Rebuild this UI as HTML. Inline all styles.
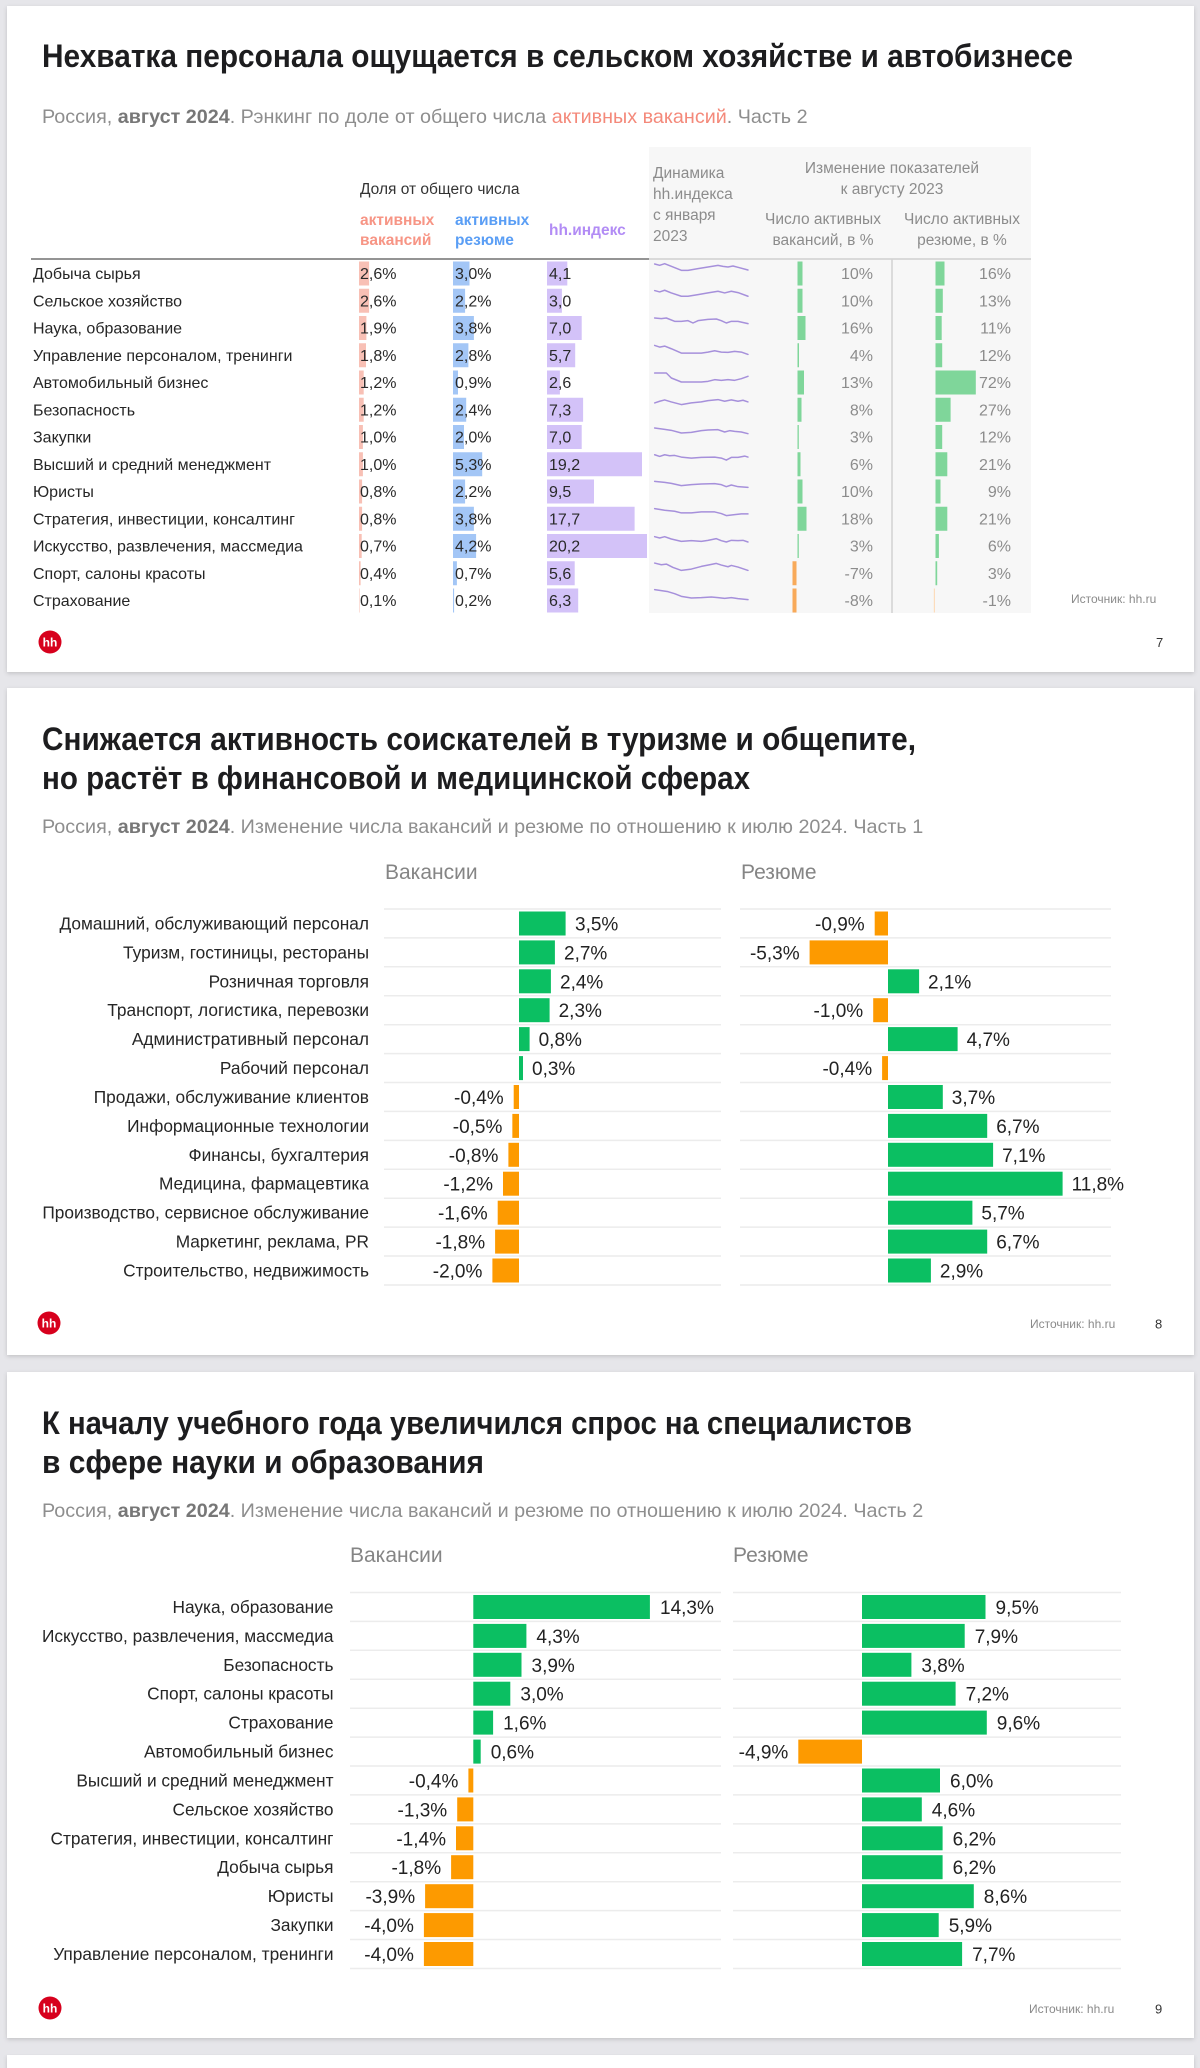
<!DOCTYPE html>
<html><head><meta charset="utf-8"><style>
html,body{margin:0;padding:0;background:#e6e6ea;}
svg{display:block;}
text{font-family:"Liberation Sans",Arial,sans-serif;}
.t{font-weight:bold;fill:#1d1d1f;font-size:32px;}
.sub{font-size:19.75px;fill:#8e8e8e;}
.lb{font-size:16px;fill:#262626;}
.v{font-size:16px;fill:#2a2a2a;}
.g{font-size:16px;fill:#8c8c8c;}
.ph{font-size:15.5px;fill:#8c8c8c;}
.cl{font-size:17.3px;fill:#262626;}
.cv{font-size:19px;fill:#222;}
.ch{font-size:21px;fill:#858585;}
.src{font-size:12px;fill:#8a8a8a;}
.pg{font-size:13px;fill:#333;}
.sp{fill:none;stroke:#a690db;stroke-width:4.5;stroke-linejoin:round;stroke-linecap:round;}
</style></head><body>
<svg width="1200" height="2068" viewBox="0 0 1200 2068" xmlns="http://www.w3.org/2000/svg">
<defs><filter id="sh" x="-2%" y="-2%" width="104%" height="104%"><feDropShadow dx="0" dy="1.5" stdDeviation="2" flood-color="#000" flood-opacity="0.16"/></filter></defs>
<rect x="0" y="0" width="1200" height="2068" fill="#e6e6ea"/>
<rect x="7" y="6" width="1187" height="666" fill="#fff" filter="url(#sh)"/>
<rect x="7" y="688" width="1187" height="667" fill="#fff" filter="url(#sh)"/>
<rect x="7" y="1372" width="1187" height="666" fill="#fff" filter="url(#sh)"/>
<rect x="7" y="2055" width="1187" height="20" fill="#fff" filter="url(#sh)"/>

<!-- ============ SLIDE 1 ============ -->
<text class="t" x="42" y="67" textLength="1031" lengthAdjust="spacingAndGlyphs">Нехватка персонала ощущается в сельском хозяйстве и автобизнесе</text>
<text class="sub" x="42" y="123">Россия, <tspan font-weight="bold" fill="#777">август 2024</tspan>. Рэнкинг по доле от общего числа <tspan fill="#f4897a">активных вакансий</tspan>. Часть 2</text>

<rect x="649" y="147" width="382" height="466" fill="#f7f7f7"/>
<text x="360" y="194" font-size="15.5" fill="#333">Доля от общего числа</text>
<text x="360" y="225" font-size="15.5" font-weight="bold" fill="#f79585">активных</text>
<text x="360" y="245" font-size="15.5" font-weight="bold" fill="#f79585">вакансий</text>
<text x="455" y="225" font-size="15.5" font-weight="bold" fill="#5a9ef5">активных</text>
<text x="455" y="245" font-size="15.5" font-weight="bold" fill="#5a9ef5">резюме</text>
<text x="549" y="235" font-size="15.5" font-weight="bold" fill="#b28cf5">hh.индекс</text>
<text class="ph" x="653" y="178">Динамика</text>
<text class="ph" x="653" y="199">hh.индекса</text>
<text class="ph" x="653" y="220">с января</text>
<text class="ph" x="653" y="241">2023</text>
<text class="ph" x="892" y="173" text-anchor="middle">Изменение показателей</text>
<text class="ph" x="892" y="194" text-anchor="middle">к августу 2023</text>
<text class="ph" x="823" y="224" text-anchor="middle">Число активных</text>
<text class="ph" x="823" y="245" text-anchor="middle">вакансий, в %</text>
<text class="ph" x="962" y="224" text-anchor="middle">Число активных</text>
<text class="ph" x="962" y="245" text-anchor="middle">резюме, в %</text>
<line x1="31" y1="259" x2="649" y2="259" stroke="#707070" stroke-width="1.5"/>
<line x1="649" y1="259" x2="1031" y2="259" stroke="#cfcfcf" stroke-width="1.5"/>
<line x1="892" y1="259" x2="892" y2="613" stroke="#d2d2d2" stroke-width="1.5"/>

<g fill="#f8c0b5">
<rect x="359" y="261.5" width="10.1" height="24"/>
<rect x="359" y="288.75" width="10.1" height="24"/>
<rect x="359" y="316" width="7.4" height="24"/>
<rect x="359" y="343.25" width="7" height="24"/>
<rect x="359" y="370.5" width="4.7" height="24"/>
<rect x="359" y="397.75" width="4.7" height="24"/>
<rect x="359" y="425" width="3.9" height="24"/>
<rect x="359" y="452.25" width="3.9" height="24"/>
<rect x="359" y="479.5" width="3.1" height="24"/>
<rect x="359" y="506.75" width="3.1" height="24"/>
<rect x="359" y="534" width="2.7" height="24"/>
<rect x="359" y="561.25" width="1.6" height="24"/>
<rect x="359" y="588.5" width="0.5" height="24"/>
</g>
<g fill="#a3c6f6">
<rect x="453" y="261.5" width="16.5" height="24"/>
<rect x="453" y="288.75" width="12.1" height="24"/>
<rect x="453" y="316" width="20.9" height="24"/>
<rect x="453" y="343.25" width="15.4" height="24"/>
<rect x="453" y="370.5" width="5" height="24"/>
<rect x="453" y="397.75" width="13.2" height="24"/>
<rect x="453" y="425" width="11" height="24"/>
<rect x="453" y="452.25" width="29.2" height="24"/>
<rect x="453" y="479.5" width="12.1" height="24"/>
<rect x="453" y="506.75" width="20.9" height="24"/>
<rect x="453" y="534" width="23.1" height="24"/>
<rect x="453" y="561.25" width="3.9" height="24"/>
<rect x="453" y="588.5" width="1.1" height="24"/>
</g>
<g fill="#d3c2f8">
<rect x="547" y="261.5" width="20.3" height="24"/>
<rect x="547" y="288.75" width="14.9" height="24"/>
<rect x="547" y="316" width="34.7" height="24"/>
<rect x="547" y="343.25" width="28.2" height="24"/>
<rect x="547" y="370.5" width="12.9" height="24"/>
<rect x="547" y="397.75" width="36.1" height="24"/>
<rect x="547" y="425" width="34.7" height="24"/>
<rect x="547" y="452.25" width="95" height="24"/>
<rect x="547" y="479.5" width="47" height="24"/>
<rect x="547" y="506.75" width="87.6" height="24"/>
<rect x="547" y="534" width="100" height="24"/>
<rect x="547" y="561.25" width="27.7" height="24"/>
<rect x="547" y="588.5" width="31.2" height="24"/>
</g>

<g class="lb">
<text x="33" y="279">Добыча сырья</text>
<text x="33" y="306.25">Сельское хозяйство</text>
<text x="33" y="333.5">Наука, образование</text>
<text x="33" y="360.75">Управление персоналом, тренинги</text>
<text x="33" y="388">Автомобильный бизнес</text>
<text x="33" y="415.25">Безопасность</text>
<text x="33" y="442.5">Закупки</text>
<text x="33" y="469.75">Высший и средний менеджмент</text>
<text x="33" y="497">Юристы</text>
<text x="33" y="524.25">Стратегия, инвестиции, консалтинг</text>
<text x="33" y="551.5">Искусство, развлечения, массмедиа</text>
<text x="33" y="578.75">Спорт, салоны красоты</text>
<text x="33" y="606">Страхование</text>
</g>
<g class="v">
<text x="360" y="279">2,6%</text><text x="455" y="279">3,0%</text><text x="549" y="279">4,1</text>
<text x="360" y="306.25">2,6%</text><text x="455" y="306.25">2,2%</text><text x="549" y="306.25">3,0</text>
<text x="360" y="333.5">1,9%</text><text x="455" y="333.5">3,8%</text><text x="549" y="333.5">7,0</text>
<text x="360" y="360.75">1,8%</text><text x="455" y="360.75">2,8%</text><text x="549" y="360.75">5,7</text>
<text x="360" y="388">1,2%</text><text x="455" y="388">0,9%</text><text x="549" y="388">2,6</text>
<text x="360" y="415.25">1,2%</text><text x="455" y="415.25">2,4%</text><text x="549" y="415.25">7,3</text>
<text x="360" y="442.5">1,0%</text><text x="455" y="442.5">2,0%</text><text x="549" y="442.5">7,0</text>
<text x="360" y="469.75">1,0%</text><text x="455" y="469.75">5,3%</text><text x="549" y="469.75">19,2</text>
<text x="360" y="497">0,8%</text><text x="455" y="497">2,2%</text><text x="549" y="497">9,5</text>
<text x="360" y="524.25">0,8%</text><text x="455" y="524.25">3,8%</text><text x="549" y="524.25">17,7</text>
<text x="360" y="551.5">0,7%</text><text x="455" y="551.5">4,2%</text><text x="549" y="551.5">20,2</text>
<text x="360" y="578.75">0,4%</text><text x="455" y="578.75">0,7%</text><text x="549" y="578.75">5,6</text>
<text x="360" y="606">0,1%</text><text x="455" y="606">0,2%</text><text x="549" y="606">6,3</text>
</g>

<g transform="translate(648,258) scale(0.3333)"><polyline class="sp" points="20,18 35,22 50,17 70,25 100,37 120,37 150,32 180,27 210,22 225,25 240,27 255,24 270,28 300,36"/></g>
<g transform="translate(648,285.25) scale(0.3333)"><polyline class="sp" points="20,16 35,20 50,15 70,23 100,33 120,33 150,28 180,23 210,18 230,23 250,18 270,22 300,33"/></g>
<g transform="translate(648,312.5) scale(0.3333)"><polyline class="sp" points="20,16.5 40,18.5 55,16.5 80,26.5 100,26.5 120,24.5 135,31.5 150,24.5 180,20.5 205,19.5 220,24.5 235,31.5 250,26.5 270,26.5 300,33.5"/></g>
<g transform="translate(648,339.75) scale(0.3333)"><polyline class="sp" points="20,17 35,22 50,19 70,27 100,40 130,40 160,40 180,37 200,33 220,37 240,38 260,35 280,37 300,44"/></g>
<g transform="translate(648,367) scale(0.3333)"><polyline class="sp" points="20,18 40,18 55,18 70,33 100,45 130,45 160,45 180,43 200,38 220,40 240,38 260,40 280,35 300,28"/></g>
<g transform="translate(648,394.25) scale(0.3333)"><polyline class="sp" points="20,26 35,21 50,17 70,23 100,31 130,26 160,23 180,19 210,16 230,21 250,17 270,21 285,18 300,23"/></g>
<g transform="translate(648,421.5) scale(0.3333)"><polyline class="sp" points="20,19.5 50,23.5 70,26.5 100,34.5 130,32.5 160,27.5 180,25.5 210,24.5 230,31.5 245,27.5 260,29.5 280,31.5 300,36.5"/></g>
<g transform="translate(648,448.75) scale(0.3333)"><polyline class="sp" points="20,18 35,23 50,18 65,21 80,20 100,25 130,28 160,26 200,25 220,28 235,34 250,26 270,26 290,22 300,25"/></g>
<g transform="translate(648,476) scale(0.3333)"><polyline class="sp" points="20,16 50,19 70,22 100,29 130,26 160,24 200,23 220,26 235,32 250,27 270,32 300,34"/></g>
<g transform="translate(648,503.25) scale(0.3333)"><polyline class="sp" points="20,16 50,21 80,24 100,29 130,29 160,26 200,26 220,31 235,37 260,34 280,32 300,32"/></g>
<g transform="translate(648,530.5) scale(0.3333)"><polyline class="sp" points="20,18.5 35,22.5 50,18.5 70,25.5 100,32.5 130,30.5 160,32.5 180,29.5 205,24.5 220,30.5 235,34.5 250,29.5 270,30.5 285,29.5 300,34.5"/></g>
<g transform="translate(648,557.75) scale(0.3333)"><polyline class="sp" points="20,16 40,21 55,19 75,29 100,38 130,34 160,26 185,21 205,17 220,22 240,27 250,23 270,28 300,38"/></g>
<g transform="translate(648,585) scale(0.3333)"><polyline class="sp" points="20,14 40,17 60,20 80,26 100,34 130,39 160,38 190,36 210,38 230,40 250,38 270,41 300,44"/></g>

<g fill="#7fd69a">
<rect x="797.5" y="261.5" width="5" height="24"/>
<rect x="797.5" y="288.75" width="5" height="24"/>
<rect x="797.5" y="316" width="8" height="24"/>
<rect x="797.5" y="343.25" width="1.5" height="24"/>
<rect x="797.5" y="370.5" width="6.5" height="24"/>
<rect x="797.5" y="397.75" width="4" height="24"/>
<rect x="797.5" y="425" width="1.3" height="24"/>
<rect x="797.5" y="452.25" width="3" height="24"/>
<rect x="797.5" y="479.5" width="5" height="24"/>
<rect x="797.5" y="506.75" width="9" height="24"/>
<rect x="797.5" y="534" width="1.3" height="24"/>
</g>
<g fill="#f8aa5a">
<rect x="792.5" y="561.25" width="4" height="24"/>
<rect x="792.5" y="588.5" width="4" height="24"/>
</g>
<g fill="#7fd69a">
<rect x="935.5" y="261.5" width="9" height="24"/>
<rect x="935.5" y="288.75" width="7.3" height="24"/>
<rect x="935.5" y="316" width="6.2" height="24"/>
<rect x="935.5" y="343.25" width="6.7" height="24"/>
<rect x="935.5" y="370.5" width="40.3" height="24"/>
<rect x="935.5" y="397.75" width="15.1" height="24"/>
<rect x="935.5" y="425" width="6.7" height="24"/>
<rect x="935.5" y="452.25" width="11.8" height="24"/>
<rect x="935.5" y="479.5" width="5" height="24"/>
<rect x="935.5" y="506.75" width="11.8" height="24"/>
<rect x="935.5" y="534" width="3.4" height="24"/>
<rect x="935.5" y="561.25" width="1.7" height="24"/>
</g>
<rect x="933.8" y="588.5" width="1.2" height="24" fill="#fcdcbc"/>
<g class="g" text-anchor="end">
<text x="873" y="279">10%</text><text x="1011" y="279">16%</text>
<text x="873" y="306.25">10%</text><text x="1011" y="306.25">13%</text>
<text x="873" y="333.5">16%</text><text x="1011" y="333.5">11%</text>
<text x="873" y="360.75">4%</text><text x="1011" y="360.75">12%</text>
<text x="873" y="388">13%</text><text x="1011" y="388">72%</text>
<text x="873" y="415.25">8%</text><text x="1011" y="415.25">27%</text>
<text x="873" y="442.5">3%</text><text x="1011" y="442.5">12%</text>
<text x="873" y="469.75">6%</text><text x="1011" y="469.75">21%</text>
<text x="873" y="497">10%</text><text x="1011" y="497">9%</text>
<text x="873" y="524.25">18%</text><text x="1011" y="524.25">21%</text>
<text x="873" y="551.5">3%</text><text x="1011" y="551.5">6%</text>
<text x="873" y="578.75">-7%</text><text x="1011" y="578.75">3%</text>
<text x="873" y="606">-8%</text><text x="1011" y="606">-1%</text>
</g>
<text class="src" x="1071" y="603">Источник: hh.ru</text>
<circle cx="50" cy="642" r="11.5" fill="#d7001d"/>
<text x="50" y="646.5" font-size="12" font-weight="bold" fill="#fff" text-anchor="middle">hh</text>
<text class="pg" x="1156" y="647">7</text>

<!-- ============ SLIDE 2 ============ -->
<text class="t" x="42" y="750" textLength="874" lengthAdjust="spacingAndGlyphs">Снижается активность соискателей в туризме и общепите,</text>
<text class="t" x="42" y="789" textLength="708" lengthAdjust="spacingAndGlyphs">но растёт в финансовой и медицинской сферах</text>
<text class="sub" x="42" y="833">Россия, <tspan font-weight="bold" fill="#777">август 2024</tspan>. Изменение числа вакансий и резюме по отношению к июлю 2024. Часть 1</text>
<text class="ch" x="385" y="879">Вакансии</text>
<text class="ch" x="741" y="879">Резюме</text>
<g stroke="#ececec" stroke-width="1.5">
<line x1="384" y1="909" x2="721" y2="909"/><line x1="740" y1="909" x2="1111" y2="909"/>
<line x1="384" y1="937.9" x2="721" y2="937.9"/><line x1="740" y1="937.9" x2="1111" y2="937.9"/>
<line x1="384" y1="966.8" x2="721" y2="966.8"/><line x1="740" y1="966.8" x2="1111" y2="966.8"/>
<line x1="384" y1="995.8" x2="721" y2="995.8"/><line x1="740" y1="995.8" x2="1111" y2="995.8"/>
<line x1="384" y1="1024.7" x2="721" y2="1024.7"/><line x1="740" y1="1024.7" x2="1111" y2="1024.7"/>
<line x1="384" y1="1053.6" x2="721" y2="1053.6"/><line x1="740" y1="1053.6" x2="1111" y2="1053.6"/>
<line x1="384" y1="1082.5" x2="721" y2="1082.5"/><line x1="740" y1="1082.5" x2="1111" y2="1082.5"/>
<line x1="384" y1="1111.4" x2="721" y2="1111.4"/><line x1="740" y1="1111.4" x2="1111" y2="1111.4"/>
<line x1="384" y1="1140.4" x2="721" y2="1140.4"/><line x1="740" y1="1140.4" x2="1111" y2="1140.4"/>
<line x1="384" y1="1169.3" x2="721" y2="1169.3"/><line x1="740" y1="1169.3" x2="1111" y2="1169.3"/>
<line x1="384" y1="1198.2" x2="721" y2="1198.2"/><line x1="740" y1="1198.2" x2="1111" y2="1198.2"/>
<line x1="384" y1="1227.1" x2="721" y2="1227.1"/><line x1="740" y1="1227.1" x2="1111" y2="1227.1"/>
<line x1="384" y1="1256" x2="721" y2="1256"/><line x1="740" y1="1256" x2="1111" y2="1256"/>
<line x1="384" y1="1285" x2="721" y2="1285"/><line x1="740" y1="1285" x2="1111" y2="1285"/>
</g>
<g class="cl" text-anchor="end">
<text x="369" y="929.5">Домашний, обслуживающий персонал</text>
<text x="369" y="958.4">Туризм, гостиницы, рестораны</text>
<text x="369" y="987.3">Розничная торговля</text>
<text x="369" y="1016.2">Транспорт, логистика, перевозки</text>
<text x="369" y="1045.1">Административный персонал</text>
<text x="369" y="1074.1">Рабочий персонал</text>
<text x="369" y="1103">Продажи, обслуживание клиентов</text>
<text x="369" y="1131.9">Информационные технологии</text>
<text x="369" y="1160.8">Финансы, бухгалтерия</text>
<text x="369" y="1189.7">Медицина, фармацевтика</text>
<text x="369" y="1218.7">Производство, сервисное обслуживание</text>
<text x="369" y="1247.6">Маркетинг, реклама, PR</text>
<text x="369" y="1276.5">Строительство, недвижимость</text>
</g>
<g fill="#0bbf62">
<rect x="519" y="911.5" width="46.6" height="24"/>
<rect x="519" y="940.4" width="35.9" height="24"/>
<rect x="519" y="969.3" width="31.9" height="24"/>
<rect x="519" y="998.2" width="30.6" height="24"/>
<rect x="519" y="1027.1" width="10.6" height="24"/>
<rect x="519" y="1056.1" width="4" height="24"/>
<rect x="888" y="969.3" width="31.1" height="24"/>
<rect x="888" y="1027.1" width="69.6" height="24"/>
<rect x="888" y="1085" width="54.8" height="24"/>
<rect x="888" y="1113.9" width="99.2" height="24"/>
<rect x="888" y="1142.8" width="105.1" height="24"/>
<rect x="888" y="1171.7" width="174.6" height="24"/>
<rect x="888" y="1200.7" width="84.4" height="24"/>
<rect x="888" y="1229.6" width="99.2" height="24"/>
<rect x="888" y="1258.5" width="42.9" height="24"/>
</g>
<g fill="#fd9a00">
<rect x="513.7" y="1085" width="5.3" height="24"/>
<rect x="512.35" y="1113.9" width="6.65" height="24"/>
<rect x="508.4" y="1142.8" width="10.6" height="24"/>
<rect x="503" y="1171.7" width="16" height="24"/>
<rect x="497.7" y="1200.7" width="21.3" height="24"/>
<rect x="495.1" y="1229.6" width="23.9" height="24"/>
<rect x="492.4" y="1258.5" width="26.6" height="24"/>
<rect x="874.7" y="911.5" width="13.3" height="24"/>
<rect x="809.6" y="940.4" width="78.4" height="24"/>
<rect x="873.2" y="998.2" width="14.8" height="24"/>
<rect x="882.1" y="1056.1" width="5.9" height="24"/>
</g>
<g class="cv">
<text x="575" y="930.5">3,5%</text>
<text x="564" y="959.4">2,7%</text>
<text x="560" y="988.3">2,4%</text>
<text x="558.6" y="1017.2">2,3%</text>
<text x="538.6" y="1046.1">0,8%</text>
<text x="532" y="1075.1">0,3%</text>
<text x="928" y="988.3">2,1%</text>
<text x="966.6" y="1046.1">4,7%</text>
<text x="951.8" y="1104">3,7%</text>
<text x="996.2" y="1132.9">6,7%</text>
<text x="1002.1" y="1161.8">7,1%</text>
<text x="1071.6" y="1190.7">11,8%</text>
<text x="981.4" y="1219.7">5,7%</text>
<text x="996.2" y="1248.6">6,7%</text>
<text x="939.9" y="1277.5">2,9%</text>
</g>
<g class="cv" text-anchor="end">
<text x="503.7" y="1104">-0,4%</text>
<text x="502.4" y="1132.9">-0,5%</text>
<text x="498.4" y="1161.8">-0,8%</text>
<text x="493" y="1190.7">-1,2%</text>
<text x="487.7" y="1219.7">-1,6%</text>
<text x="485.1" y="1248.6">-1,8%</text>
<text x="482.4" y="1277.5">-2,0%</text>
<text x="864.7" y="930.5">-0,9%</text>
<text x="799.6" y="959.4">-5,3%</text>
<text x="863.2" y="1017.2">-1,0%</text>
<text x="872.1" y="1075.1">-0,4%</text>
</g>
<circle cx="49" cy="1323" r="11.5" fill="#d7001d"/>
<text x="49" y="1327.5" font-size="12" font-weight="bold" fill="#fff" text-anchor="middle">hh</text>
<text class="src" x="1030" y="1328">Источник: hh.ru</text>
<text class="pg" x="1155" y="1328.5">8</text>

<!-- ============ SLIDE 3 ============ -->
<text class="t" x="42" y="1434" textLength="870" lengthAdjust="spacingAndGlyphs">К началу учебного года увеличился спрос на специалистов</text>
<text class="t" x="42" y="1473" textLength="442" lengthAdjust="spacingAndGlyphs">в сфере науки и образования</text>
<text class="sub" x="42" y="1517">Россия, <tspan font-weight="bold" fill="#777">август 2024</tspan>. Изменение числа вакансий и резюме по отношению к июлю 2024. Часть 2</text>
<text class="ch" x="350" y="1562">Вакансии</text>
<text class="ch" x="733" y="1562">Резюме</text>
<g stroke="#ececec" stroke-width="1.5">
<line x1="350" y1="1592.5" x2="721" y2="1592.5"/><line x1="733" y1="1592.5" x2="1121" y2="1592.5"/>
<line x1="350" y1="1621.4" x2="721" y2="1621.4"/><line x1="733" y1="1621.4" x2="1121" y2="1621.4"/>
<line x1="350" y1="1650.3" x2="721" y2="1650.3"/><line x1="733" y1="1650.3" x2="1121" y2="1650.3"/>
<line x1="350" y1="1679.3" x2="721" y2="1679.3"/><line x1="733" y1="1679.3" x2="1121" y2="1679.3"/>
<line x1="350" y1="1708.2" x2="721" y2="1708.2"/><line x1="733" y1="1708.2" x2="1121" y2="1708.2"/>
<line x1="350" y1="1737.1" x2="721" y2="1737.1"/><line x1="733" y1="1737.1" x2="1121" y2="1737.1"/>
<line x1="350" y1="1766" x2="721" y2="1766"/><line x1="733" y1="1766" x2="1121" y2="1766"/>
<line x1="350" y1="1794.9" x2="721" y2="1794.9"/><line x1="733" y1="1794.9" x2="1121" y2="1794.9"/>
<line x1="350" y1="1823.9" x2="721" y2="1823.9"/><line x1="733" y1="1823.9" x2="1121" y2="1823.9"/>
<line x1="350" y1="1852.8" x2="721" y2="1852.8"/><line x1="733" y1="1852.8" x2="1121" y2="1852.8"/>
<line x1="350" y1="1881.7" x2="721" y2="1881.7"/><line x1="733" y1="1881.7" x2="1121" y2="1881.7"/>
<line x1="350" y1="1910.6" x2="721" y2="1910.6"/><line x1="733" y1="1910.6" x2="1121" y2="1910.6"/>
<line x1="350" y1="1939.5" x2="721" y2="1939.5"/><line x1="733" y1="1939.5" x2="1121" y2="1939.5"/>
<line x1="350" y1="1968.5" x2="721" y2="1968.5"/><line x1="733" y1="1968.5" x2="1121" y2="1968.5"/>
</g>
<g class="cl" text-anchor="end">
<text x="333.5" y="1613">Наука, образование</text>
<text x="333.5" y="1641.9">Искусство, развлечения, массмедиа</text>
<text x="333.5" y="1670.8">Безопасность</text>
<text x="333.5" y="1699.7">Спорт, салоны красоты</text>
<text x="333.5" y="1728.6">Страхование</text>
<text x="333.5" y="1757.6">Автомобильный бизнес</text>
<text x="333.5" y="1786.5">Высший и средний менеджмент</text>
<text x="333.5" y="1815.4">Сельское хозяйство</text>
<text x="333.5" y="1844.3">Стратегия, инвестиции, консалтинг</text>
<text x="333.5" y="1873.2">Добыча сырья</text>
<text x="333.5" y="1902.2">Юристы</text>
<text x="333.5" y="1931.1">Закупки</text>
<text x="333.5" y="1960">Управление персоналом, тренинги</text>
</g>
<g fill="#0bbf62">
<rect x="473.3" y="1595" width="176.6" height="24"/>
<rect x="473.3" y="1623.9" width="53.1" height="24"/>
<rect x="473.3" y="1652.8" width="48.2" height="24"/>
<rect x="473.3" y="1681.7" width="37" height="24"/>
<rect x="473.3" y="1710.6" width="19.8" height="24"/>
<rect x="473.3" y="1739.6" width="7.4" height="24"/>
<rect x="862" y="1595" width="123.5" height="24"/>
<rect x="862" y="1623.9" width="102.7" height="24"/>
<rect x="862" y="1652.8" width="49.4" height="24"/>
<rect x="862" y="1681.7" width="93.6" height="24"/>
<rect x="862" y="1710.6" width="124.8" height="24"/>
<rect x="862" y="1768.5" width="78" height="24"/>
<rect x="862" y="1797.4" width="59.8" height="24"/>
<rect x="862" y="1826.3" width="80.6" height="24"/>
<rect x="862" y="1855.2" width="80.6" height="24"/>
<rect x="862" y="1884.2" width="111.8" height="24"/>
<rect x="862" y="1913.1" width="76.7" height="24"/>
<rect x="862" y="1942" width="100.1" height="24"/>
</g>
<g fill="#fd9a00">
<rect x="468.4" y="1768.5" width="4.9" height="24"/>
<rect x="457.2" y="1797.4" width="16.1" height="24"/>
<rect x="456" y="1826.3" width="17.3" height="24"/>
<rect x="451.1" y="1855.2" width="22.2" height="24"/>
<rect x="425.1" y="1884.2" width="48.2" height="24"/>
<rect x="423.9" y="1913.1" width="49.4" height="24"/>
<rect x="423.9" y="1942" width="49.4" height="24"/>
<rect x="798.3" y="1739.6" width="63.7" height="24"/>
</g>
<g class="cv">
<text x="660" y="1614">14,3%</text>
<text x="536.4" y="1642.9">4,3%</text>
<text x="531.5" y="1671.8">3,9%</text>
<text x="520.4" y="1700.7">3,0%</text>
<text x="503.1" y="1729.6">1,6%</text>
<text x="490.7" y="1758.6">0,6%</text>
<text x="995.5" y="1614">9,5%</text>
<text x="974.7" y="1642.9">7,9%</text>
<text x="921.4" y="1671.8">3,8%</text>
<text x="965.6" y="1700.7">7,2%</text>
<text x="996.8" y="1729.6">9,6%</text>
<text x="950" y="1787.5">6,0%</text>
<text x="931.8" y="1816.4">4,6%</text>
<text x="952.6" y="1845.3">6,2%</text>
<text x="952.6" y="1874.2">6,2%</text>
<text x="983.8" y="1903.2">8,6%</text>
<text x="948.7" y="1932.1">5,9%</text>
<text x="972.1" y="1961">7,7%</text>
</g>
<g class="cv" text-anchor="end">
<text x="458.4" y="1787.5">-0,4%</text>
<text x="447.2" y="1816.4">-1,3%</text>
<text x="446" y="1845.3">-1,4%</text>
<text x="441.1" y="1874.2">-1,8%</text>
<text x="415.1" y="1903.2">-3,9%</text>
<text x="413.9" y="1932.1">-4,0%</text>
<text x="413.9" y="1961">-4,0%</text>
<text x="788.3" y="1758.6">-4,9%</text>
</g>
<circle cx="50" cy="2008" r="11.5" fill="#d7001d"/>
<text x="50" y="2012.5" font-size="12" font-weight="bold" fill="#fff" text-anchor="middle">hh</text>
<text class="src" x="1029" y="2013">Источник: hh.ru</text>
<text class="pg" x="1155" y="2013.5">9</text>
</svg>
</body></html>
